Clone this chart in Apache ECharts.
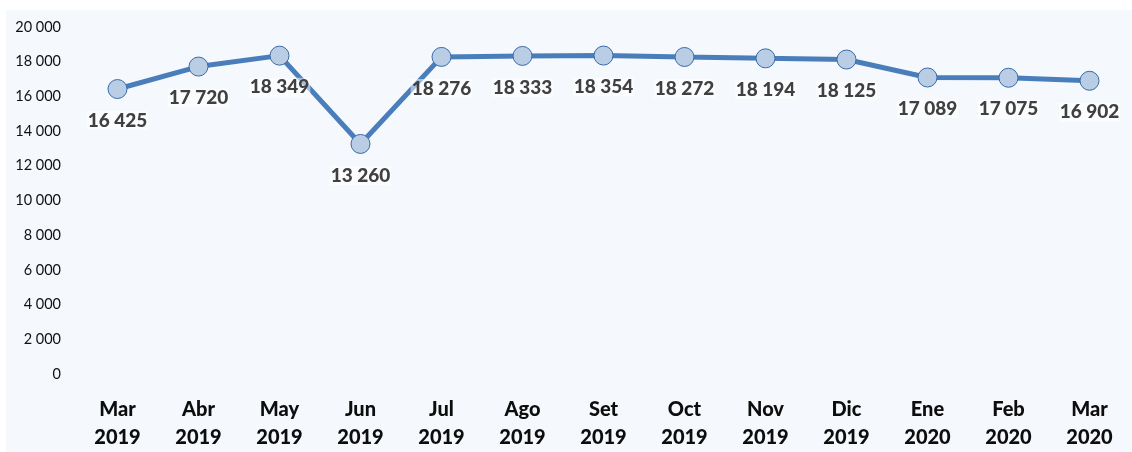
<!DOCTYPE html>
<html>
<head>
<meta charset="utf-8">
<style>
html,body{margin:0;padding:0;background:#ffffff;}
#chart{width:1132px;height:452px;}
</style>
<script src="https://cdn.jsdelivr.net/npm/echarts@6/dist/echarts.min.js"></script>
</head>
<body>
<div id="chart"></div>
<script>
const categories = ['Mar\n2019','Abr\n2019','May\n2019','Jun\n2019','Jul\n2019','Ago\n2019','Set\n2019','Oct\n2019','Nov\n2019','Dic\n2019','Ene\n2020','Feb\n2020','Mar\n2020'];
const values = [16425,17720,18349,13260,18276,18333,18354,18272,18194,18125,17089,17075,16902];
const yTicks = [0,2000,4000,6000,8000,10000,12000,14000,16000,18000,20000];

function fmt(v){ return String(v).replace(/\B(?=(\d{3})+(?!\d))/g,' '); }

const chart = echarts.init(document.getElementById('chart'));
chart.setOption({
  animation:false,
  backgroundColor:'#ffffff',
  graphic:[{type:'rect',left:6,top:10,shape:{width:1126,height:442},style:{fill:'#f5f8fc'},z:-10,silent:true}],
  grid:{left:77,right:2,top:27,bottom:75},
  xAxis:{
    type:'category',data:categories,boundaryGap:true,
    axisLine:{show:false},axisTick:{show:false},
    axisLabel:{color:'#0d0d0d',fontFamily:'Lato',fontWeight:900,fontSize:20,lineHeight:28,margin:22,interval:0}
  },
  yAxis:{
    type:'value',min:yTicks[0],max:yTicks[yTicks.length-1],interval:2000,
    splitLine:{show:false},axisLine:{show:false},axisTick:{show:false},
    axisLabel:{color:'#111111',fontFamily:'Lato',fontSize:14.5,margin:16,formatter:fmt}
  },
  series:[{
    type:'line',data:values,
    lineStyle:{color:'#4a7ebb',width:5},
    symbol:'circle',symbolSize:19,
    itemStyle:{color:'#b9cde5',borderColor:'#3b6ba8',borderWidth:1},
    label:{show:true,position:'bottom',distance:12,color:'#404040',fontFamily:'Lato',fontWeight:900,fontSize:19,
      formatter:p=>fmt(p.value),backgroundColor:'rgba(255,255,255,0.5)',padding:[0,1]},
    z:3
  }]
});
</script>
</body>
</html>
